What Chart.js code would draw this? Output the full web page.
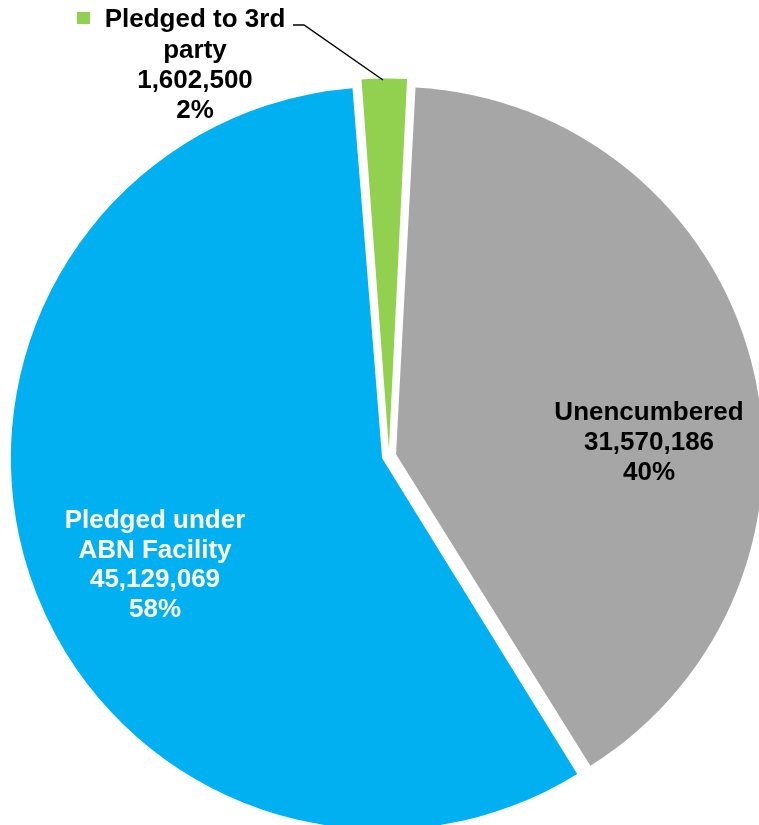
<!DOCTYPE html>
<html>
<head>
<meta charset="utf-8">
<script src="https://cdn.jsdelivr.net/npm/chart.js@4/dist/chart.umd.min.js"></script>
<style>
  html, body { margin: 0; padding: 0; background: #fff; }
  #wrap { width: 759px; height: 825px; }
</style>
</head>
<body>
<div id="wrap"><canvas id="pieChart" width="759" height="825"></canvas></div>
<script>
// data
const categories = [['Pledged to 3rd', 'party'], ['Unencumbered'], ['Pledged under', 'ABN Facility']];
const values = [1602500, 31570186, 45129069];
const colors = ['#92D050', '#A6A6A6', '#00B0F0'];

// label placement (x centre, y of first line's cap centre, line step, colour)
const labelPos = [
    { x: 195, y: 18, step: 30.3, color: '#000' },
    { x: 649, y: 411, step: 30, color: '#000' },
    { x: 155, y: 519, step: 29.5, color: '#fff' }
];

const total = values.reduce((a, b) => a + b, 0);

const labelPlugin = {
    id: 'sliceLabels',
    afterDatasetsDraw(chart) {
        const ctx = chart.ctx;
        ctx.save();

        // leader line for the small slice
        ctx.strokeStyle = '#000';
        ctx.lineWidth = 1.5;
        ctx.beginPath();
        ctx.moveTo(293, 25);
        ctx.lineTo(304, 25);
        ctx.lineTo(383, 80);
        ctx.stroke();

        // legend key square
        ctx.fillStyle = colors[0];
        ctx.fillRect(77, 12, 13, 12);

        ctx.font = 'bold 26px "Liberation Sans", Arial, sans-serif';
        ctx.textAlign = 'center';
        ctx.textBaseline = 'alphabetic';
        values.forEach((v, i) => {
            const p = labelPos[i];
            const lines = categories[i].concat([
                v.toLocaleString('en-US'),
                Math.round(v / total * 100) + '%'
            ]);
            ctx.fillStyle = p.color;
            lines.forEach((t, j) => {
                ctx.fillText(t, p.x, p.y + j * p.step + 9.3);
            });
        });
        ctx.restore();
    }
};

const pieCtx = document.getElementById('pieChart').getContext('2d');
const pieChart = new Chart(pieCtx, {
    type: 'pie',
    data: {
        labels: categories.map(c => c.join(' ')),
        datasets: [{
            data: values,
            backgroundColor: colors,
            borderWidth: 0,
            offset: 29,
            radius: 364,
            rotation: -4.4,
            clip: false
        }]
    },
    options: {
        responsive: false,
        animation: false,
        layout: {
            padding: { left: 19, top: 87, right: 0, bottom: 0 }
        },
        plugins: {
            legend: { display: false },
            tooltip: { enabled: false }
        }
    },
    plugins: [labelPlugin]
});
</script>
</body>
</html>
